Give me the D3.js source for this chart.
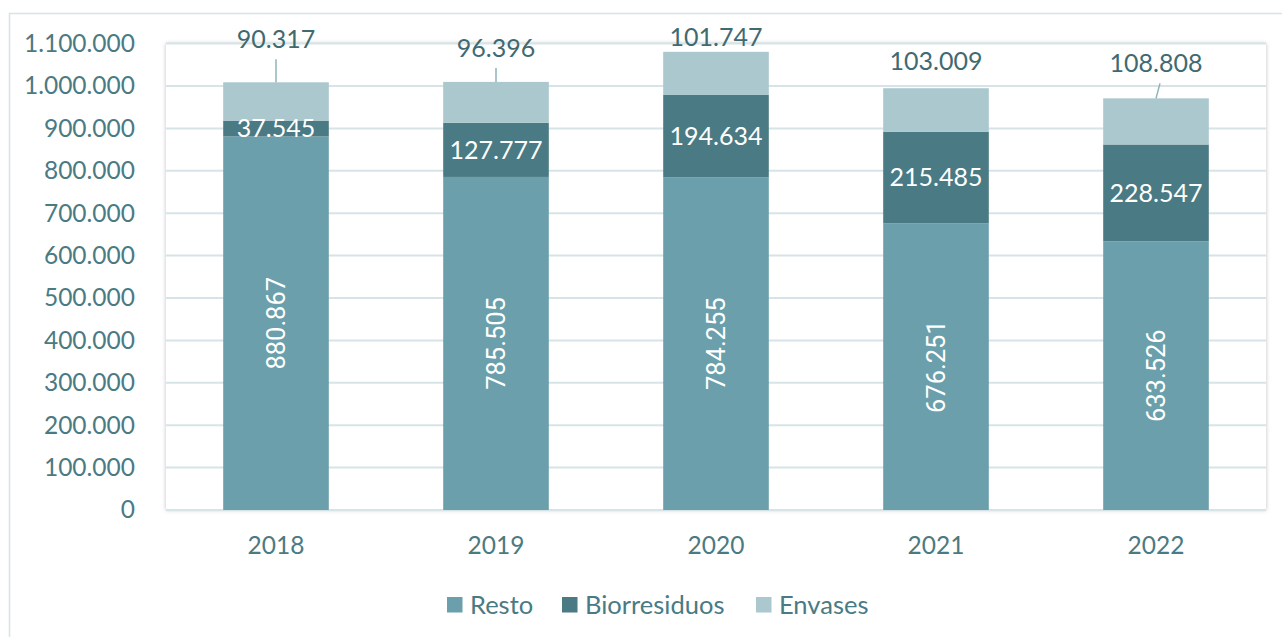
<!DOCTYPE html>
<html>
<head>
<meta charset="utf-8">
<script src="https://cdn.jsdelivr.net/npm/d3@7"></script>
<style>
  body { margin: 0; background: #fff; }
  svg text { font-family: Lato, "Open Sans", sans-serif; }
</style>
</head>
<body>
<div id="chart"></div>
<script>
// data
const years = ['2018', '2019', '2020', '2021', '2022'];
const resto = [880867, 785505, 784255, 676251, 633526];
const biorresiduos = [37545, 127777, 194634, 215485, 228547];
const envases = [90317, 96396, 101747, 103009, 108808];
const yTicks = [0, 100000, 200000, 300000, 400000, 500000, 600000, 700000, 800000, 900000, 1000000, 1100000];

// label placement for envases (px above bar top), leader line on/off
const envLabelGap = [43, 34, 15, 27, 35];
const envLeader = [true, true, false, false, true];
const envLeaderDx = [0, 0, 0, 0, 4];

const svgWidth = 1282, svgHeight = 637;
const plot = { left: 166, right: 1266, top: 43.6, bottom: 510 };

const colors = { resto: '#6a9fab', bio: '#4a7a83', env: '#aac8ce' };
const textCol = '#4a7a83';
const labelCol = '#3f6a71';

const fmt = v => d3.format(',')(v).replace(/,/g, '.');

const svg = d3.select('#chart').append('svg')
  .attr('width', svgWidth)
  .attr('height', svgHeight);

const defs = svg.append('defs');
const shadow = defs.append('filter').attr('id', 'shadow')
  .attr('x', '-5%').attr('y', '-5%').attr('width', '110%').attr('height', '110%');
shadow.append('feDropShadow')
  .attr('dx', 0).attr('dy', 0).attr('stdDeviation', 2)
  .attr('flood-color', '#000').attr('flood-opacity', 0.25);

// outer frame
svg.append('rect')
  .attr('x', 9.5).attr('y', 13.5)
  .attr('width', svgWidth + 20).attr('height', svgHeight + 20)
  .attr('fill', 'none').attr('stroke', '#d6e4e8').attr('stroke-width', 1.5);

// plot area box
svg.append('rect')
  .attr('x', plot.left).attr('y', plot.top)
  .attr('width', plot.right - plot.left).attr('height', plot.bottom - plot.top)
  .attr('fill', '#fff')
  .attr('filter', 'url(#shadow)');

const x = d3.scaleBand()
  .domain(years)
  .range([plot.left, plot.right])
  .paddingInner(0.52)
  .paddingOuter(0.26);

const y = d3.scaleLinear()
  .domain([0, 1100000])
  .range([plot.bottom, plot.top]);

// gridlines
svg.append('g')
  .selectAll('line')
  .data(yTicks)
  .join('line')
  .attr('x1', plot.left).attr('x2', plot.right)
  .attr('y1', d => y(d)).attr('y2', d => y(d))
  .attr('stroke', '#d6e4e8').attr('stroke-width', 2);

// y axis
const yAxis = svg.append('g')
  .attr('transform', `translate(${plot.left - 28},0)`)
  .call(d3.axisLeft(y).tickValues(yTicks).tickFormat(fmt).tickSize(0));
yAxis.select('.domain').remove();
yAxis.selectAll('text')
  .attr('fill', textCol)
  .style('font-size', '24.5px');

// x axis
const xAxis = svg.append('g')
  .attr('transform', `translate(0,${plot.bottom + 24})`)
  .call(d3.axisBottom(x).tickSize(0));
xAxis.select('.domain').remove();
xAxis.selectAll('text')
  .attr('fill', textCol)
  .style('font-size', '24.5px');

// stack
const rows = years.map((yr, i) => ({ year: yr, resto: resto[i], bio: biorresiduos[i], env: envases[i] }));
const keys = ['resto', 'bio', 'env'];
const stacked = d3.stack().keys(keys)(rows);

const layers = svg.append('g')
  .selectAll('g')
  .data(stacked)
  .join('g')
  .attr('fill', d => colors[d.key]);

layers.selectAll('rect')
  .data(d => d)
  .join('rect')
  .attr('x', d => x(d.data.year))
  .attr('width', x.bandwidth())
  .attr('y', d => y(d[1]))
  .attr('height', d => y(d[0]) - y(d[1]));

// resto labels (rotated)
svg.append('g')
  .selectAll('text')
  .data(stacked[0])
  .join('text')
  .attr('transform', d => `translate(${x(d.data.year) + x.bandwidth() / 2},${(y(d[0]) + y(d[1])) / 2}) rotate(-90)`)
  .attr('text-anchor', 'middle')
  .attr('dy', '0.35em')
  .attr('fill', '#fff')
  .style('font-family', 'Roboto, sans-serif')
  .style('font-size', '25.5px')
  .text(d => fmt(d.data.resto));

// biorresiduos labels
svg.append('g')
  .selectAll('text')
  .data(stacked[1])
  .join('text')
  .attr('x', d => x(d.data.year) + x.bandwidth() / 2)
  .attr('y', d => (y(d[0]) + y(d[1])) / 2)
  .attr('text-anchor', 'middle')
  .attr('dy', '0.35em')
  .attr('fill', '#fff')
  .style('font-size', '25px')
  .text(d => fmt(d.data.bio));

// envases labels + leader lines
const envG = svg.append('g');
stacked[2].forEach((d, i) => {
  const cx = x(d.data.year) + x.bandwidth() / 2;
  const top = y(d[1]);
  const ly = top - envLabelGap[i];
  if (envLeader[i]) {
    envG.append('line')
      .attr('x1', cx).attr('y1', top)
      .attr('x2', cx + envLeaderDx[i]).attr('y2', ly + 20)
      .attr('stroke', '#8fb3ba').attr('stroke-width', 1.5);
  }
  envG.append('text')
    .attr('x', cx)
    .attr('y', ly)
    .attr('text-anchor', 'middle')
    .attr('dy', '0.35em')
    .attr('fill', labelCol)
    .style('font-size', '25px')
    .text(fmt(d.data.env));
});

// legend
const legendItems = [
  { key: 'resto', label: 'Resto', x: 447 },
  { key: 'bio', label: 'Biorresiduos', x: 562 },
  { key: 'env', label: 'Envases', x: 756 }
];
const legend = svg.append('g').attr('transform', 'translate(0,605)');
legendItems.forEach(it => {
  legend.append('rect')
    .attr('x', it.x).attr('y', -8)
    .attr('width', 15.5).attr('height', 15.5)
    .attr('fill', colors[it.key]);
  legend.append('text')
    .attr('x', it.x + 23).attr('y', 0)
    .attr('dy', '0.35em')
    .attr('fill', textCol)
    .style('font-size', '25.5px')
    .text(it.label);
});
</script>
</body>
</html>
